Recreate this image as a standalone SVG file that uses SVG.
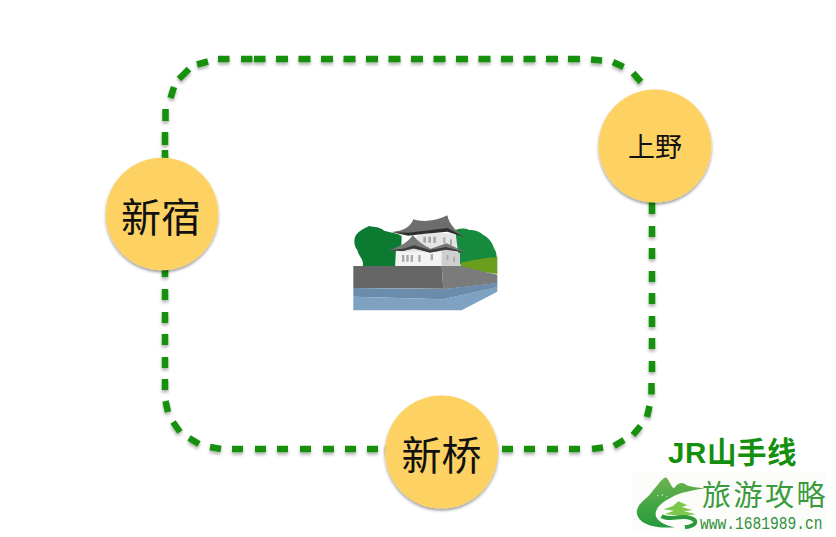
<svg xmlns="http://www.w3.org/2000/svg" width="836" height="537" viewBox="0 0 836 537">
<style>
.st{fill:#fdd264;filter:url(#sh)}
.lb{font-family:"Noto Sans CJK SC","Liberation Sans",sans-serif;fill:#111;text-anchor:middle}
.dash{fill:none;stroke:#14900e;stroke-width:6.5;stroke-linecap:butt}
</style>
<defs>
<filter id="sh" x="-20%" y="-20%" width="140%" height="140%"><feDropShadow dx="0" dy="2" stdDeviation="1.6" flood-color="#000" flood-opacity="0.4"/></filter>
<filter id="shl" x="-5%" y="-5%" width="110%" height="110%"><feDropShadow dx="0" dy="2.5" stdDeviation="1.5" flood-color="#000" flood-opacity="0.3"/></filter>
<filter id="soft"><feGaussianBlur stdDeviation="1.6"/></filter>
<linearGradient id="mt" x1="0" y1="0" x2="0" y2="1"><stop offset="0" stop-color="#6cb34e"/><stop offset="1" stop-color="#239a3c"/></linearGradient>
</defs>
<rect width="836" height="537" fill="#fff"/>
<g id="connectors" class="dash" filter="url(#shl)">
<path d="M165 150V158M165 132V145M165.500 109V121M170.500 98L174 87M179 79L189 69M197 64.500L208 61.500M218 59H229.500M241 59H252.500M254 59H265.500M276 59H288M298.500 59H310.500M321 59H333M343.500 59H355.500M366 59H378M388.500 59H400.500M411 59H423M433.500 59H445.500M456 59H468M478.500 59H490.500M501 59H513M523.500 59H535.500M546 59H558M568 59H580M591 59.500L602 60.500M613 62L623.500 67M633 73L641 82"/>
<path d="M652 200V214M652 226V237M652 248V259M652 271V282M652 293V304M652 316V327M652 338V349M652 361V372M651.500 383V394.500M649.500 406L647 417M640.500 426L633 435M624 440L614 446M603 447.500L592 449M580 449H569M558 449H547M535 449H524M513 449H502"/>
<path d="M165 265V277M165 289V300M165 312V323M165 334V345M165 357V368M165 379V390M165.500 401L168 412M173 422L180 432M189 438L199 444M210 447L221 449M232 449H243M255 449H266M277 449H288M300 449H311M323 449H334M345 449H356M367 449H378M385 449H390"/>
</g>
<g id="castle" transform="translate(340 200) scale(.3333)">
<g filter="url(#soft)">
<path fill="#0b7a30" d="M68 198C74 180 55 168 52 150C42 140 40 118 48 105C58 92 72 85 88 78C105 82 118 80 132 92C150 97 175 100 185 108L182 198Z"/>
<path fill="#128a3e" d="M340 95C352 85 370 82 388 90C405 88 420 95 430 105C445 112 458 128 462 145C470 155 468 165 472 175L350 195Z"/>
<path fill="#6a9e1e" d="M362 188C395 182 435 172 472 172V222L362 205Z"/>
<path fill="#e4e4e4" d="M245 100H347L360 200H165L168 145L215 120Z"/>
<path fill="#f3f3f3" d="M168 155H305V198H168Z"/>
<path fill="#cfcfcf" d="M305 145L360 160V200H305Z"/>
<path fill="#6d6d6d" d="M156 96C195 93 212 78 220 58C250 68 290 62 322 46C328 72 345 92 374 110L322 88L255 94L205 104Z"/>
<path fill="#2e2e2e" d="M156 97L205 98L255 92L322 84L374 111L322 95L255 101L205 107Z"/>
<path fill="#777" d="M143 151C185 140 205 125 218 105C235 125 250 135 272 146L320 130L380 158L318 146L270 156L220 146L185 152Z"/>
<path fill="#3a3a3a" d="M143 151L190 146L222 136L270 150L318 141L380 158L318 149L270 158L222 145L190 153Z"/>
<path fill="#a8a8a8" d="M186 165h7v20h-7zM199 165h7v20h-7zM212 165h7v20h-7zM235 165h7v20h-7zM272 163h7v18h-7zM250 110h8v18h-8zM265 110h8v18h-8zM280 110h8v18h-8zM310 112h6v18h-6zM330 118h6v18h-6zM320 165h5v16h-5zM340 170h5v16h-5z"/>
</g>
<path fill="#666" d="M40 198H305L310 266L40 264Z"/>
<path fill="#7b7b7b" d="M305 198H362L472 224V250L310 268Z"/>
<path fill="#6c8cab" d="M40 264L310 267L472 249V262L310 298L40 290Z"/>
<path fill="#7fa2c2" d="M40 290L310 298L472 260V275L365 331H40Z"/>
</g>
<g id="shinjuku"><circle class="st" cx="162" cy="214" r="56.300"/><text class="lb" x="161" y="232" font-size="40">新宿</text></g>
<g id="ueno"><circle class="st" cx="655" cy="146" r="56.500"/><text class="lb" x="655" y="157" font-size="27">上野</text></g>
<g id="shinbashi"><circle class="st" cx="441.500" cy="452" r="56.500"/><text class="lb" x="441.500" y="470" font-size="40">新桥</text></g>
<text x="668" y="463" font-size="29.500" letter-spacing=".6" font-weight="700" fill="#14900e" font-family="'Liberation Sans','Noto Sans CJK SC',sans-serif">JR山手线</text>
<g id="logo">
<rect x="632" y="472" width="194" height="60" fill="#fcfdfb"/>
<g transform="translate(630 470) scale(.3333)">
<path fill="url(#mt)" d="M20 125C25 95 50 90 70 60C85 45 95 25 108 22C118 30 122 50 132 55C142 40 155 35 165 42C175 50 195 52 225 55C190 62 150 65 120 85C90 100 72 120 78 140C88 158 112 168 135 172C80 176 22 165 20 125Z"/>
<path fill="#fff" d="M82 75l4 1-2 4zM95 72l5 2-3 4zM108 78l4 1-2 3z"/>
<path fill="#7cc84a" d="M145 94L172 106L155 111L188 120L162 124L198 133L150 138L105 132L132 122L100 118L128 109Z"/>
<path fill="none" stroke="#2c9a3a" stroke-width="12" d="M95 138C115 152 145 138 172 142C205 148 205 166 165 172"/>
</g>
<text x="702" y="506" font-size="29" letter-spacing="2.500" fill="#3a9a3c" font-family="'Noto Sans CJK SC',sans-serif">旅游攻略</text>
<text transform="translate(700 529) scale(1 1.25)" font-size="14.600" fill="#2f8f3a" font-family="'Liberation Mono',monospace">www.1681989.cn</text>
</g>
</svg>
